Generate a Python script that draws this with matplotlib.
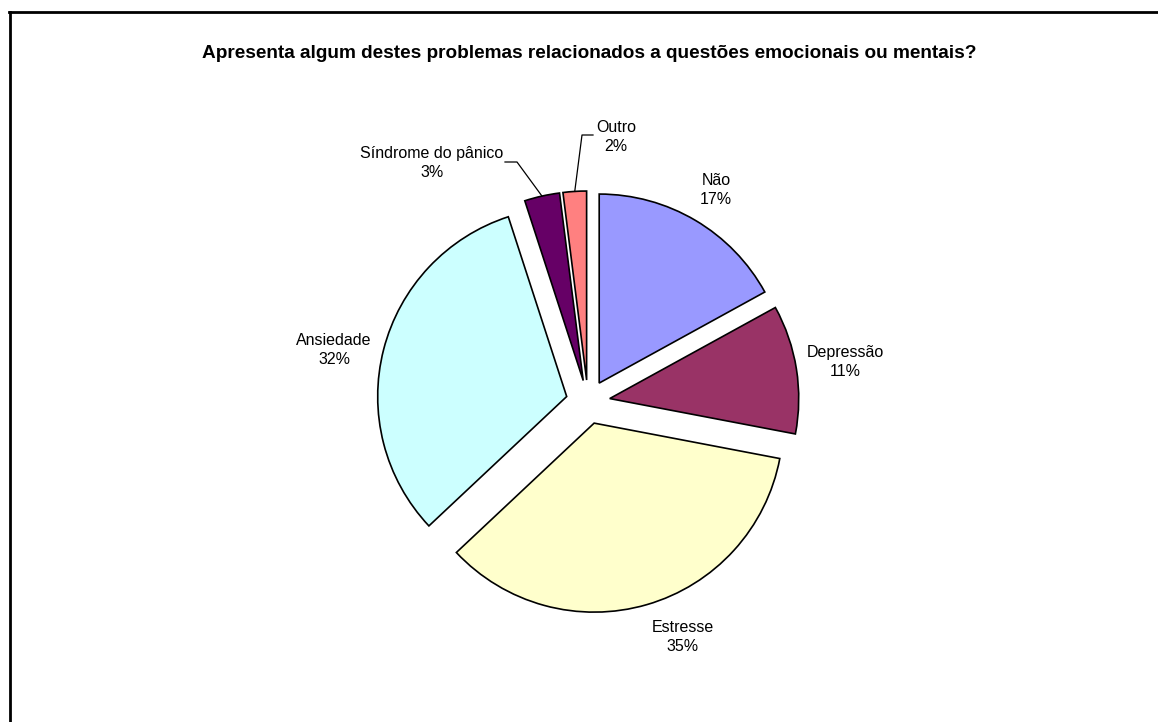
import numpy as np
import matplotlib
matplotlib.use("Agg")
import matplotlib.pyplot as plt
from matplotlib.lines import Line2D

plt.rcParams['font.family'] = ['Liberation Sans', 'DejaVu Sans']

# Survey answers (share of respondents, %)
categories = ["Não", "Depressão", "Estresse", "Ansiedade", "Síndrome do pânico", "Outro"]
shares = [17, 11, 35, 32, 3, 2]
colors = ["#9999FF", "#993366", "#FFFFCC", "#CCFFFF", "#660066", "#FF8080"]
title = "Apresenta algum destes problemas relacionados a questões emocionais ou mentais?"

W, H = 1158, 722
fig = plt.figure(figsize=(W / 100, H / 100), dpi=100)
fig.patch.set_facecolor("white")
ax = fig.add_axes([0, 0, 1, 1])

cx, cy, R = 588, H - 402, 189
# pie offsets are in data units (pixels here)
explode = [22] * len(shares)

wedges, _ = ax.pie(shares, colors=colors, startangle=90, counterclock=False,
                   explode=explode, radius=R, center=(cx, cy),
                   wedgeprops=dict(edgecolor="black", linewidth=1.2))
ax.set_xlim(0, W)
ax.set_ylim(0, H)
ax.set_aspect("equal", adjustable="box")
ax.axis("off")

# label block centres in pixel coordinates (x, y from top)
label_pos = {
    "Não": (716, 190),
    "Depressão": (845, 362),
    "Estresse": (683, 637),
    "Ansiedade": (334, 350),
    "Síndrome do pânico": (432, 163),
    "Outro": (616, 137),
}
for name, val in zip(categories, shares):
    x, y = label_pos[name]
    ax.text(x, H - y, f"{name}\n{val}%", ha="center", va="center",
            fontsize=11.5, linespacing=1.3, color="black")

# leader lines for the two thin slices
def outer_mid(w):
    mid = np.deg2rad((w.theta1 + w.theta2) / 2)
    c = w.center
    return c[0] + w.r * np.cos(mid), c[1] + w.r * np.sin(mid)

leaders = {
    "Síndrome do pânico": [(505, 162), (517, 162)],
    "Outro": [(593, 135), (582, 135)],
}
for name, pts in leaders.items():
    w = wedges[categories.index(name)]
    ex, ey = outer_mid(w)
    xs = [p[0] for p in pts] + [ex]
    ys = [H - p[1] for p in pts] + [ey]
    ax.plot(xs, ys, color="black", linewidth=0.9)

fig.text(589 / W, 1 - 53 / H, title, ha="center", va="center",
         fontsize=13.7, fontweight="bold")

# chart frame (extends past the right and bottom edges)
fig.add_artist(Line2D([9.5 / W, 9.5 / W], [1 - 12 / H, -0.05],
                      transform=fig.transFigure, color="black", linewidth=2))
fig.add_artist(Line2D([8.5 / W, 1.05], [1 - 12 / H, 1 - 12 / H],
                      transform=fig.transFigure, color="black", linewidth=2))

fig.savefig("out.png", dpi=100, facecolor="white")
